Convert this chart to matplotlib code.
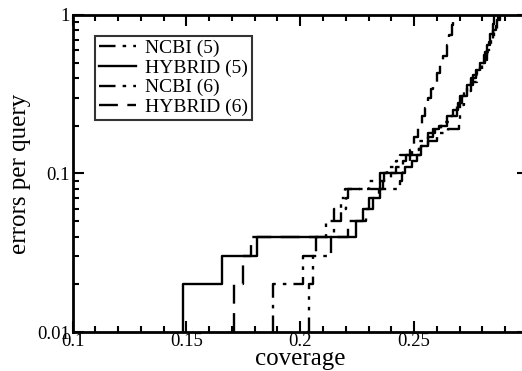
import matplotlib
matplotlib.use("Agg")
import matplotlib.pyplot as plt
from matplotlib.ticker import FixedLocator, MultipleLocator, LogLocator, NullFormatter

plt.rcParams['font.family'] = ['Liberation Serif', 'DejaVu Serif']

# coverage at which the error level jumps, and the new errors-per-query level
hyb5_x = [0.1484, 0.1484, 0.1655, 0.1809, 0.2245, 0.2277, 0.2300, 0.2350, 0.2367, 0.2460,
          0.2490, 0.2511, 0.2530, 0.2560, 0.2584, 0.2610, 0.2643, 0.2670, 0.2694, 0.2710,
          0.2730, 0.2750, 0.2770, 0.2789, 0.2805, 0.2820, 0.2833, 0.2845, 0.2852]
hyb5_y = [0.01, 0.02, 0.03, 0.04, 0.05, 0.06, 0.07, 0.09, 0.10, 0.11,
          0.12, 0.13, 0.15, 0.17, 0.19, 0.20, 0.23, 0.25, 0.28, 0.31,
          0.36, 0.40, 0.45, 0.50, 0.56, 0.65, 0.76, 0.88, 1.0]

hyb6_x = [0.1708, 0.1708, 0.1750, 0.1785, 0.2211, 0.2290, 0.2320, 0.2345, 0.2365, 0.2400,
          0.2420, 0.2445, 0.2465, 0.2489, 0.2500, 0.2518, 0.2535, 0.2547, 0.2560, 0.2575,
          0.2584, 0.2600, 0.2613, 0.2628, 0.2643, 0.2655, 0.2665, 0.2672]
hyb6_y = [0.01, 0.02, 0.03, 0.04, 0.05, 0.06, 0.07, 0.08, 0.09, 0.10,
          0.11, 0.12, 0.13, 0.15, 0.17, 0.20, 0.23, 0.26, 0.30, 0.34,
          0.38, 0.43, 0.49, 0.55, 0.65, 0.75, 0.86, 1.0]

ncbi5_x = [0.2031, 0.2040, 0.2055, 0.2068, 0.2115, 0.2150, 0.2180, 0.2195, 0.2300, 0.2350,
           0.2380, 0.2420, 0.2440, 0.2480, 0.2520, 0.2560, 0.2590, 0.2620, 0.2660, 0.2690,
           0.2720, 0.2750, 0.2775, 0.2800, 0.2820, 0.2838, 0.2852, 0.2865, 0.2875]
ncbi5_y = [0.01, 0.02, 0.03, 0.04, 0.05, 0.06, 0.07, 0.08, 0.09, 0.10,
           0.11, 0.12, 0.13, 0.14, 0.16, 0.18, 0.19, 0.21, 0.23, 0.27,
           0.33, 0.38, 0.45, 0.52, 0.60, 0.70, 0.82, 0.93, 1.0]

ncbi6_x = [0.1879, 0.1879, 0.2013, 0.2135, 0.2150, 0.2180, 0.2200, 0.2210, 0.2437, 0.2445,
           0.2450, 0.2480, 0.2530, 0.2560, 0.2600, 0.2650, 0.2697, 0.2700, 0.2730, 0.2760,
           0.2790, 0.2810, 0.2830, 0.2845, 0.2860, 0.2868]
ncbi6_y = [0.01, 0.02, 0.03, 0.04, 0.05, 0.06, 0.07, 0.08, 0.09, 0.10,
           0.12, 0.13, 0.15, 0.16, 0.18, 0.19, 0.21, 0.31, 0.36, 0.42,
           0.50, 0.58, 0.68, 0.80, 0.92, 1.0]

fig = plt.figure(figsize=(5.22, 3.71), dpi=100)
ax = fig.add_axes([0.1389, 0.1051, 0.8726, 0.8545])

lw = 1.7
ax.plot(ncbi5_x, ncbi5_y, color='black', lw=lw, drawstyle='steps-post',
        dashes=[7, 3, 1.5, 3, 1.5, 3], label='NCBI (5)')
ax.plot(hyb5_x, hyb5_y, color='black', lw=lw, drawstyle='steps-post',
        label='HYBRID (5)')
ax.plot(ncbi6_x, ncbi6_y, color='black', lw=lw, drawstyle='steps-post',
        dashes=[7, 3, 1.5, 3], label='NCBI (6)')
ax.plot(hyb6_x, hyb6_y, color='black', lw=lw, drawstyle='steps-post',
        dashes=[8, 4], label='HYBRID (6)')

ax.set_yscale('log')
ax.set_xlim(0.1, 0.3)
ax.set_ylim(0.01, 1)

ax.xaxis.set_major_locator(FixedLocator([0.1, 0.15, 0.2, 0.25]))
ax.xaxis.set_minor_locator(MultipleLocator(0.01))
ax.set_xticklabels(['0.1', '0.15', '0.2', '0.25'])
ax.yaxis.set_major_locator(FixedLocator([0.01, 0.1, 1]))
ax.yaxis.set_minor_locator(LogLocator(base=10, subs=range(2, 10)))
ax.yaxis.set_minor_formatter(NullFormatter())
ax.set_yticklabels(['0.01', '0.1', '1'])

ax.tick_params(which='both', direction='in', top=True, right=True, width=1.5,
               labelsize=13.5, pad=2, colors='black')
ax.tick_params(which='major', length=8)
ax.tick_params(which='minor', length=4)
ax.tick_params(axis='x', pad=1)
for s in ax.spines.values():
    s.set_linewidth(2)

ax.set_xlabel('coverage', fontsize=18, labelpad=-2)
ax.set_ylabel('errors per query', fontsize=18, labelpad=4)

leg = ax.legend(loc='upper left', bbox_to_anchor=(0.049, 0.935), fontsize=14,
                frameon=True, fancybox=False, handlelength=1.9, handletextpad=0.5,
                labelspacing=0.1, borderpad=0.2, borderaxespad=0)
leg.get_frame().set_edgecolor('black')
leg.get_frame().set_linewidth(1.5)

fig.savefig('out.png', dpi=100)
